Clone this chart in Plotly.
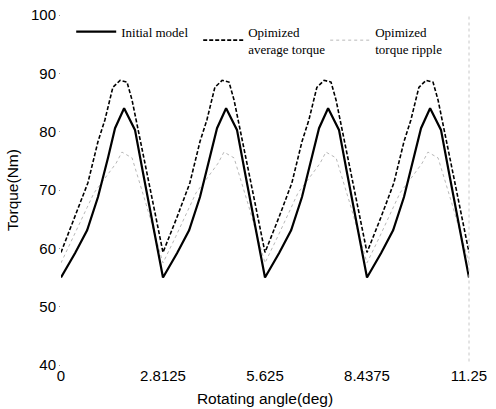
import numpy as np
import plotly.graph_objects as go

period = 2.8125
n_periods = 4

# one period of each curve (offset within period, torque in Nm)
initial_x = [0.0, 0.39, 0.72, 1.02, 1.30, 1.49, 1.74, 2.04, 2.26]
initial_y = [55.0, 59.2, 63.1, 68.8, 75.6, 80.6, 84.0, 80.3, 73.0]

avg_x = [0.0, 0.39, 0.74, 1.02, 1.21, 1.43, 1.63, 1.82, 1.96, 2.37, 2.78]
avg_y = [59.3, 65.4, 71.2, 78.3, 82.0, 87.6, 88.8, 88.5, 85.4, 72.9, 60.2]

ripple_x = [0.0, 0.35, 0.72, 0.91, 1.32, 1.52, 1.68, 1.96, 2.35]
ripple_y = [57.5, 62.0, 67.0, 69.5, 72.9, 74.6, 76.5, 75.5, 67.5]

series_names = ["Initial model", "Opimized<br>average torque", "Opimized<br>torque ripple"]

x_tickvals = [0, 2.8125, 5.625, 8.4375, 11.25]
x_ticktext = ["0", "2.8125", "5.625", "8.4375", "11.25"]
y_tickvals = [40, 50, 60, 70, 80, 90, 100]


def tile(xs, ys):
    X, Y = [], []
    for k in range(n_periods):
        X += [k * period + v for v in xs]
        Y += list(ys)
    X.append(n_periods * period)
    Y.append(ys[0])
    return X, Y


ix, iy = tile(initial_x, initial_y)
ax, ay = tile(avg_x, avg_y)
rx, ry = tile(ripple_x, ripple_y)

fig = go.Figure()
fig.add_trace(go.Scatter(x=rx, y=ry, mode="lines", name=series_names[2],
                         line=dict(color="#b8b8b8", width=1, dash="dot"), legendrank=3))
fig.add_trace(go.Scatter(x=ax, y=ay, mode="lines", name=series_names[1],
                         line=dict(color="black", width=1.6, dash="4px,2px"), legendrank=2))
fig.add_trace(go.Scatter(x=ix, y=iy, mode="lines", name=series_names[0],
                         line=dict(color="black", width=2.2), legendrank=1))

tickfont = dict(family="Liberation Sans, Arial, sans-serif", size=15, color="black")

fig.update_layout(
    width=496, height=409,
    margin=dict(l=61, r=27, t=15, b=44),
    plot_bgcolor="white", paper_bgcolor="white",
    showlegend=True,
    legend=dict(orientation="h", x=0.025, y=0.995, xanchor="left", yanchor="top",
                font=dict(family="Liberation Serif, Times New Roman, serif", size=13, color="black"),
                bgcolor="rgba(0,0,0,0)", entrywidth=72, entrywidthmode="pixels",
                traceorder="normal", itemwidth=40, valign="middle"),
    xaxis=dict(range=[0, 11.25], tickvals=x_tickvals, ticktext=x_ticktext,
               showgrid=False, zeroline=False, showline=False, ticks="",
               tickfont=tickfont, automargin=False,
               title=dict(text="Rotating angle(deg)", font=dict(family="Liberation Sans, Arial, sans-serif", size=15.5, color="black"), standoff=10)),
    yaxis=dict(range=[40, 100], tickvals=y_tickvals,
               showgrid=False, zeroline=False, showline=False, ticks="outside", ticklen=1,
               tickcolor="#999", tickwidth=1,
               tickfont=tickfont, automargin=False,
               title=dict(text="Torque(Nm)", font=dict(family="Liberation Sans, Arial, sans-serif", size=15.5, color="black"), standoff=8)),
)

# faint right frame edge
fig.add_shape(type="line", xref="paper", yref="paper", x0=1, x1=1, y0=0.01, y1=1,
              line=dict(color="#c8c8c8", width=1, dash="dot"))

fig.write_html("out.html")
